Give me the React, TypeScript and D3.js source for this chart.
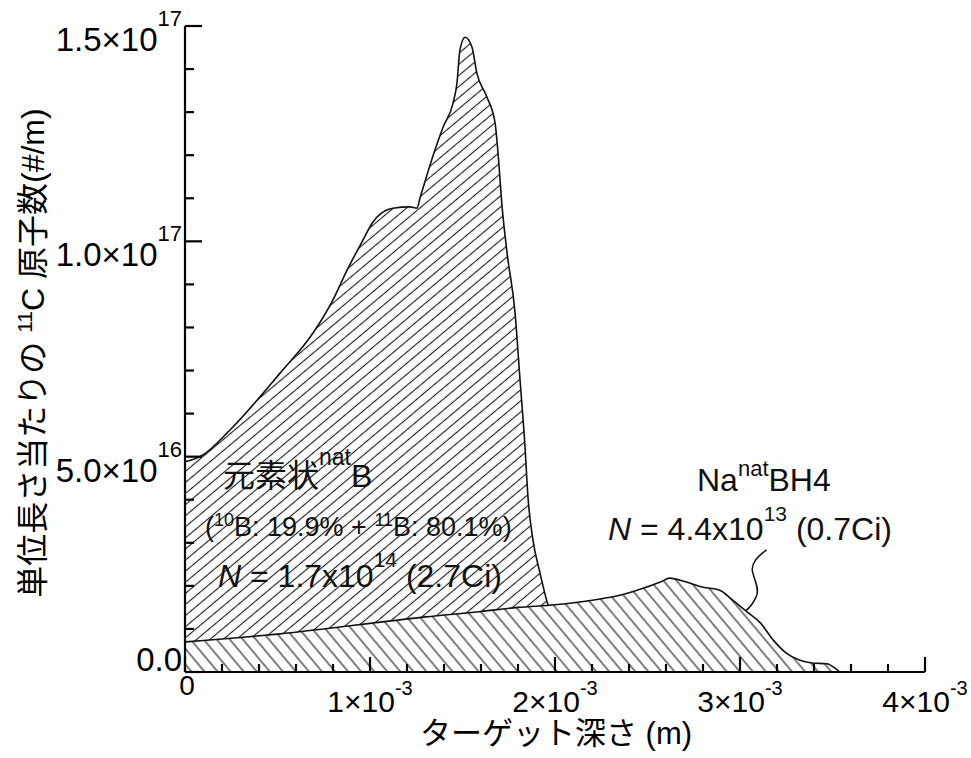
import React, { useRef, useEffect } from 'react';
import * as d3 from 'd3';

// elemental natB target, depth in mm, atoms in 1e16 /m
const depthB = [0, 0.097, 0.243, 0.514, 0.692, 0.8, 0.876, 0.962, 1.016, 1.06, 1.124, 1.216, 1.254, 1.27, 1.351, 1.395, 1.449, 1.47, 1.486, 1.514, 1.551, 1.578, 1.632, 1.676, 1.692, 1.714, 1.741, 1.784, 1.811, 1.838, 1.854, 1.881, 1.919, 1.957, 2.0, 2.05];
const atomsB = [4.88, 5.04, 5.62, 6.94, 7.87, 8.64, 9.33, 10.03, 10.45, 10.65, 10.77, 10.8, 10.77, 11.0, 12.12, 12.65, 13.21, 13.67, 14.44, 14.74, 14.51, 13.9, 13.35, 12.75, 12.05, 10.8, 9.73, 8.34, 6.78, 5.22, 4.06, 3.06, 2.3, 1.63, 1.1, 0];

// Na natBH4 target
const depthNa = [0, 0.1, 0.3, 0.5, 0.75, 1.0, 1.3, 1.59, 1.8, 2.0, 2.21, 2.35, 2.48, 2.57, 2.62, 2.71, 2.8, 2.89, 2.96, 3.04, 3.11, 3.18, 3.25, 3.32, 3.39, 3.47, 3.51, 3.54];
const atomsNa = [0.7, 0.73, 0.8, 0.88, 1.0, 1.13, 1.28, 1.4, 1.5, 1.56, 1.67, 1.78, 1.95, 2.09, 2.18, 2.09, 1.97, 1.9, 1.67, 1.39, 1.14, 0.74, 0.44, 0.28, 0.21, 0.19, 0.1, 0];

const xTickValues = [0, 1e-3, 2e-3, 3e-3, 4e-3];
const xTickBase = ['0', '1×10', '2×10', '3×10', '4×10'];
const xTickExp = ['', '-3', '-3', '-3', '-3'];

const yTickValues = [0, 5e16, 1e17, 1.5e17];
const yTickBase = ['0.0', '5.0×10', '1.0×10', '1.5×10'];
const yTickExp = ['', '16', '17', '17'];

const W = 971;
const H = 758;
const margin = { top: 26, right: 46, bottom: 86, left: 185 };
const FONT = '"Liberation Sans", Arial, Helvetica, "Noto Sans CJK JP", sans-serif';

const addHatch = (defs, id, angle, gap) => {
  const p = defs
    .append('pattern')
    .attr('id', id)
    .attr('patternUnits', 'userSpaceOnUse')
    .attr('width', gap)
    .attr('height', gap)
    .attr('patternTransform', `rotate(${angle})`);
  p.append('line')
    .attr('x1', -1)
    .attr('x2', gap + 1)
    .attr('y1', gap / 2)
    .attr('y2', gap / 2)
    .attr('stroke', '#1e1e1e')
    .attr('stroke-width', 1.15);
};

const App = () => {
  const ref = useRef<SVGSVGElement>(null);

  useEffect(() => {
    const svg = d3.select(ref.current);
    svg.selectAll('*').remove();

    const x = d3.scaleLinear().domain([0, 4e-3]).range([margin.left, W - margin.right]);
    const y = d3.scaleLinear().domain([0, 1.5e17]).range([H - margin.bottom, margin.top]);
    const x0 = x(0);
    const y0 = y(0);

    const defs = svg.append('defs');
    addHatch(defs, 'hatchB', -40, 8.5);
    addHatch(defs, 'hatchNa', 50, 10);

    const area = d3
      .area<number[]>()
      .x(d => x(d[0]))
      .y0(y0)
      .y1(d => y(d[1]))
      .curve(d3.curveMonotoneX);
    const line = d3
      .line<number[]>()
      .x(d => x(d[0]))
      .y(d => y(d[1]))
      .curve(d3.curveMonotoneX);

    const drawSeries = (depth, atoms, hatchId) => {
      const pts = depth.map((d, i) => [d * 1e-3, atoms[i] * 1e16]);
      svg.append('path').attr('d', area(pts)).attr('fill', '#fff');
      svg.append('path').attr('d', area(pts)).attr('fill', `url(#${hatchId})`);
      svg.append('path')
        .attr('d', line(pts))
        .attr('fill', 'none')
        .attr('stroke', '#111')
        .attr('stroke-width', 1.6);
    };
    drawSeries(depthB, atomsB, 'hatchB');
    drawSeries(depthNa, atomsNa, 'hatchNa');

    // axes
    const ax = svg.append('g').attr('stroke', '#000').attr('stroke-width', 2.2);
    ax.append('line').attr('x1', x0).attr('x2', x(4e-3)).attr('y1', y0).attr('y2', y0);
    ax.append('line').attr('x1', x0).attr('x2', x0).attr('y1', y0).attr('y2', y(1.5e17));

    const isMajor = (v, step) => Math.abs(v / step - Math.round(v / step)) < 1e-6;
    x.ticks(20).forEach(v => {
      const len = isMajor(v, 1e-3) ? 15 : 8;
      ax.append('line').attr('x1', x(v)).attr('x2', x(v)).attr('y1', y0).attr('y2', y0 - len);
    });
    y.ticks(15).forEach(v => {
      const len = isMajor(v, 5e16) ? 17 : 9;
      ax.append('line').attr('x1', x0).attr('x2', x0 + len).attr('y1', y(v)).attr('y2', y(v));
    });

    // y tick labels
    yTickValues.forEach((v, i) => {
      const t = svg.append('text')
        .attr('x', x0 - 3)
        .attr('y', v === 0 ? y(v) - 1 : y(v) + 25)
        .attr('text-anchor', 'end')
        .attr('font-family', FONT)
        .attr('font-size', 33);
      t.append('tspan').text(yTickBase[i]);
      if (yTickExp[i]) t.append('tspan').attr('font-size', 22).attr('dy', -25).text(yTickExp[i]);
    });

    // x tick labels
    xTickValues.forEach((v, i) => {
      const t = svg.append('text')
        .attr('x', v === 0 ? x(v) + 2 : x(v))
        .attr('y', v === 0 ? y0 + 23 : y0 + 40)
        .attr('text-anchor', 'middle')
        .attr('font-family', FONT)
        .attr('font-size', v === 0 ? 28 : 30);
      t.append('tspan').text(xTickBase[i]);
      if (xTickExp[i]) t.append('tspan').attr('font-size', 20).attr('dy', -17).text(xTickExp[i]);
    });

    // axis titles
    svg.append('text')
      .attr('x', x(2e-3) + 1)
      .attr('y', H - 14)
      .attr('text-anchor', 'middle')
      .attr('font-family', FONT)
      .attr('font-size', 31)
      .text('ターゲット深さ (m)');

    const yt = svg.append('text')
      .attr('transform', `translate(44, ${(y0 + y(1.5e17)) / 2 + 4}) rotate(-90)`)
      .attr('text-anchor', 'middle')
      .attr('font-family', FONT)
      .attr('font-size', 32);
    yt.append('tspan').text('単位長さ当たりの ');
    yt.append('tspan').attr('font-size', 21).attr('dy', -12).text('11');
    yt.append('tspan').attr('dy', 12).text('C 原子数(#/m)');

    // annotations
    const note = (px, py, size) =>
      svg.append('text').attr('x', px).attr('y', py).attr('font-family', FONT).attr('font-size', size).attr('fill', '#111');

    const a1 = note(223, 487, 32);
    a1.append('tspan').text('元素状');
    a1.append('tspan').attr('font-size', 23).attr('dy', -22).text('nat');
    a1.append('tspan').attr('dy', 22).text('B');

    const a2 = note(205, 536, 27);
    a2.append('tspan').text('(');
    a2.append('tspan').attr('font-size', 18).attr('dy', -10).text('10');
    a2.append('tspan').attr('dy', 10).text('B: 19.9% + ');
    a2.append('tspan').attr('font-size', 18).attr('dy', -10).text('11');
    a2.append('tspan').attr('dy', 10).text('B: 80.1%)');

    const a3 = note(218, 587, 32);
    a3.append('tspan').attr('font-style', 'italic').text('N');
    a3.append('tspan').text(' = 1.7x10');
    a3.append('tspan').attr('font-size', 21).attr('dy', -20).text('14');
    a3.append('tspan').attr('dy', 20).text(' (2.7Ci)');

    const a4 = note(697, 491, 32);
    a4.append('tspan').text('Na');
    a4.append('tspan').attr('font-size', 22).attr('dy', -15).text('nat');
    a4.append('tspan').attr('dy', 15).text('BH4');

    const a5 = note(608, 540, 32);
    a5.append('tspan').attr('font-style', 'italic').text('N');
    a5.append('tspan').text(' = 4.4x10');
    a5.append('tspan').attr('font-size', 21).attr('dy', -19).text('13');
    a5.append('tspan').attr('dy', 19).text(' (0.7Ci)');

    // leader from NaBH4 label to its curve
    const ex = x(3.03e-3);
    const ey = y(1.42e16);
    const sx = ex + 21;
    const sy = ey - 61;
    svg.append('path')
      .attr('d', `M${sx},${sy} C${sx - 8},${sy + 6} ${sx - 16},${sy + 13} ${sx - 14},${sy + 22} C${sx - 12},${sy + 31} ${sx - 7},${sy + 38} ${sx - 10},${sy + 46} C${sx - 13},${sy + 53} ${ex + 4},${ey - 3} ${ex},${ey}`)
      .attr('fill', 'none')
      .attr('stroke', '#111')
      .attr('stroke-width', 1.5);
  });

  return (
    <svg
      ref={ref}
      width={W}
      height={H}
      style={{ position: 'absolute', left: 0, top: 0, background: '#fff' }}
    />
  );
};

export default App;
